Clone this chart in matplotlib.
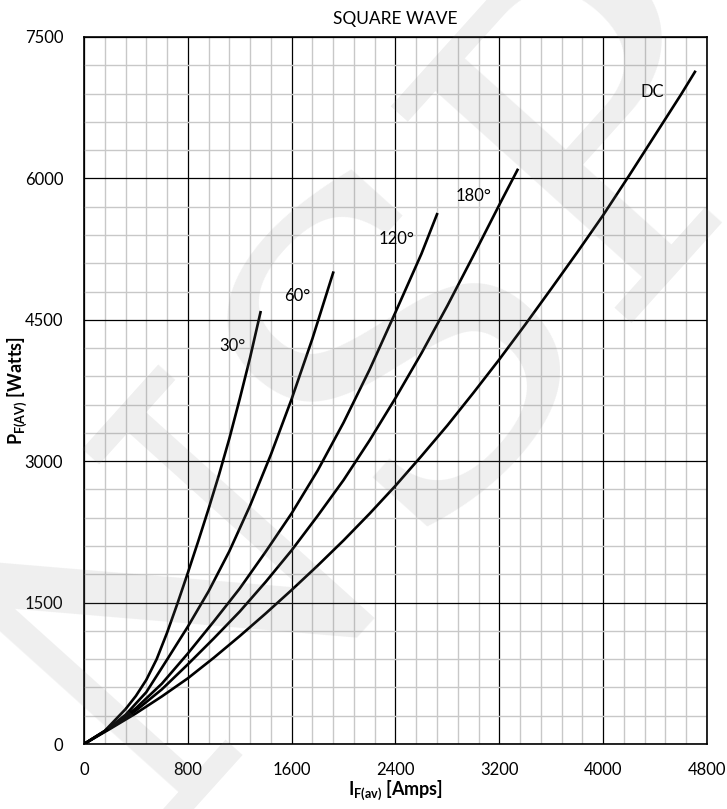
#!/usr/bin/env python
"""
Average forward power vs average forward current, square wave.
"""
import matplotlib
matplotlib.use("Agg")
import matplotlib.pyplot as plt
from matplotlib.ticker import MultipleLocator

plt.rcParams["font.family"] = ["Lato", "DejaVu Sans"]
plt.rcParams["mathtext.fontset"] = "custom"
plt.rcParams["mathtext.rm"] = "Lato"
plt.rcParams["mathtext.bf"] = "Lato:bold"

# Curves (I in A, P in W)
i_30 = [0, 160, 320, 400, 480, 560, 640, 720, 800, 880, 960, 1040, 1120, 1200, 1280, 1360]
p_30 = [0, 140, 370, 510, 680, 900, 1180, 1490, 1815, 2150, 2495, 2855, 3240, 3660, 4100, 4580]

i_60 = [0, 160, 320, 480, 640, 800, 960, 1120, 1280, 1440, 1600, 1760, 1920]
p_60 = [0, 135, 310, 550, 895, 1245, 1620, 2045, 2530, 3070, 3660, 4300, 5000]

i_120 = [0, 200, 400, 600, 800, 1000, 1200, 1400, 1600, 1800, 2000, 2200, 2400, 2600, 2720]
p_120 = [0, 172, 380, 640, 960, 1300, 1650, 2040, 2447, 2900, 3410, 3970, 4580, 5200, 5620]

i_180 = [0, 200, 400, 600, 800, 1000, 1200, 1400, 1600, 1800, 2000, 2200, 2400, 2600, 2800,
         3000, 3200, 3340]
p_180 = [0, 168, 355, 580, 845, 1120, 1405, 1720, 2055, 2420, 2800, 3220, 3670, 4145, 4650,
         5180, 5720, 6090]

i_dc = [0, 200, 400, 600, 800, 1000, 1200, 1400, 1600, 1800, 2000, 2200, 2400, 2600, 2800,
        3000, 3200, 3400, 3600, 3800, 4000, 4200, 4400, 4600, 4707]
p_dc = [0, 160, 325, 505, 697, 915, 1145, 1385, 1634, 1892, 2160, 2443, 2740, 3055, 3380,
        3725, 4080, 4450, 4830, 5215, 5610, 6030, 6460, 6890, 7130]

curves = [
    ("30°", i_30, p_30, 1140, 4222),
    ("60°", i_60, p_60, 1641, 4752),
    ("120°", i_120, p_120, 2411, 5356),
    ("180°", i_180, p_180, 3004, 5813),
    ("DC", i_dc, p_dc, 4376, 6921),
]

x_ticks = [0, 800, 1600, 2400, 3200, 4000, 4800]
y_ticks = [0, 1500, 3000, 4500, 6000, 7500]

fig = plt.figure(figsize=(7.27, 8.09), dpi=100)
ax = fig.add_axes([0.1155, 0.0803, 0.857, 0.874])

for label, xs, ys, lx, ly in curves:
    ax.plot(xs, ys, color="black", lw=1.9, zorder=4, solid_joinstyle="round")
    ax.text(lx, ly, label, fontsize=12, ha="center", va="center", zorder=5)

ax.set_xlim(0, 4800)
ax.set_ylim(0, 7500)
ax.set_xticks(x_ticks)
ax.set_yticks(y_ticks)
ax.xaxis.set_minor_locator(MultipleLocator(160))
ax.yaxis.set_minor_locator(MultipleLocator(300))
ax.grid(which="minor", color="#c8c8c8", lw=1.0, zorder=1)
ax.grid(which="major", color="black", lw=0.9, zorder=2)
ax.set_axisbelow(True)
ax.tick_params(which="both", length=0)
ax.tick_params(axis="x", labelsize=12, pad=13)
ax.tick_params(axis="y", labelsize=12, pad=15)
for sp in ax.spines.values():
    sp.set_linewidth(1.2)

ax.set_title("SQUARE WAVE", fontsize=12.5, pad=9)
ax.set_xlabel(r"$\mathbf{I}_{\mathbf{F(av)}}$ [Amps]", fontsize=13, fontweight="bold", labelpad=0)
ax.set_ylabel(r"$\mathbf{P}_{\mathbf{F(AV)}}$ [Watts]", fontsize=13, fontweight="bold")
ax.yaxis.set_label_coords(-0.088, 0.5)

# faint watermark over the whole figure
fig.text(0.53, 0.52, "NSP", fontsize=320, family="DejaVu Serif", rotation=48,
         color="gray", alpha=0.13, ha="center", va="center", zorder=10)

fig.savefig("out.png", dpi=100)
